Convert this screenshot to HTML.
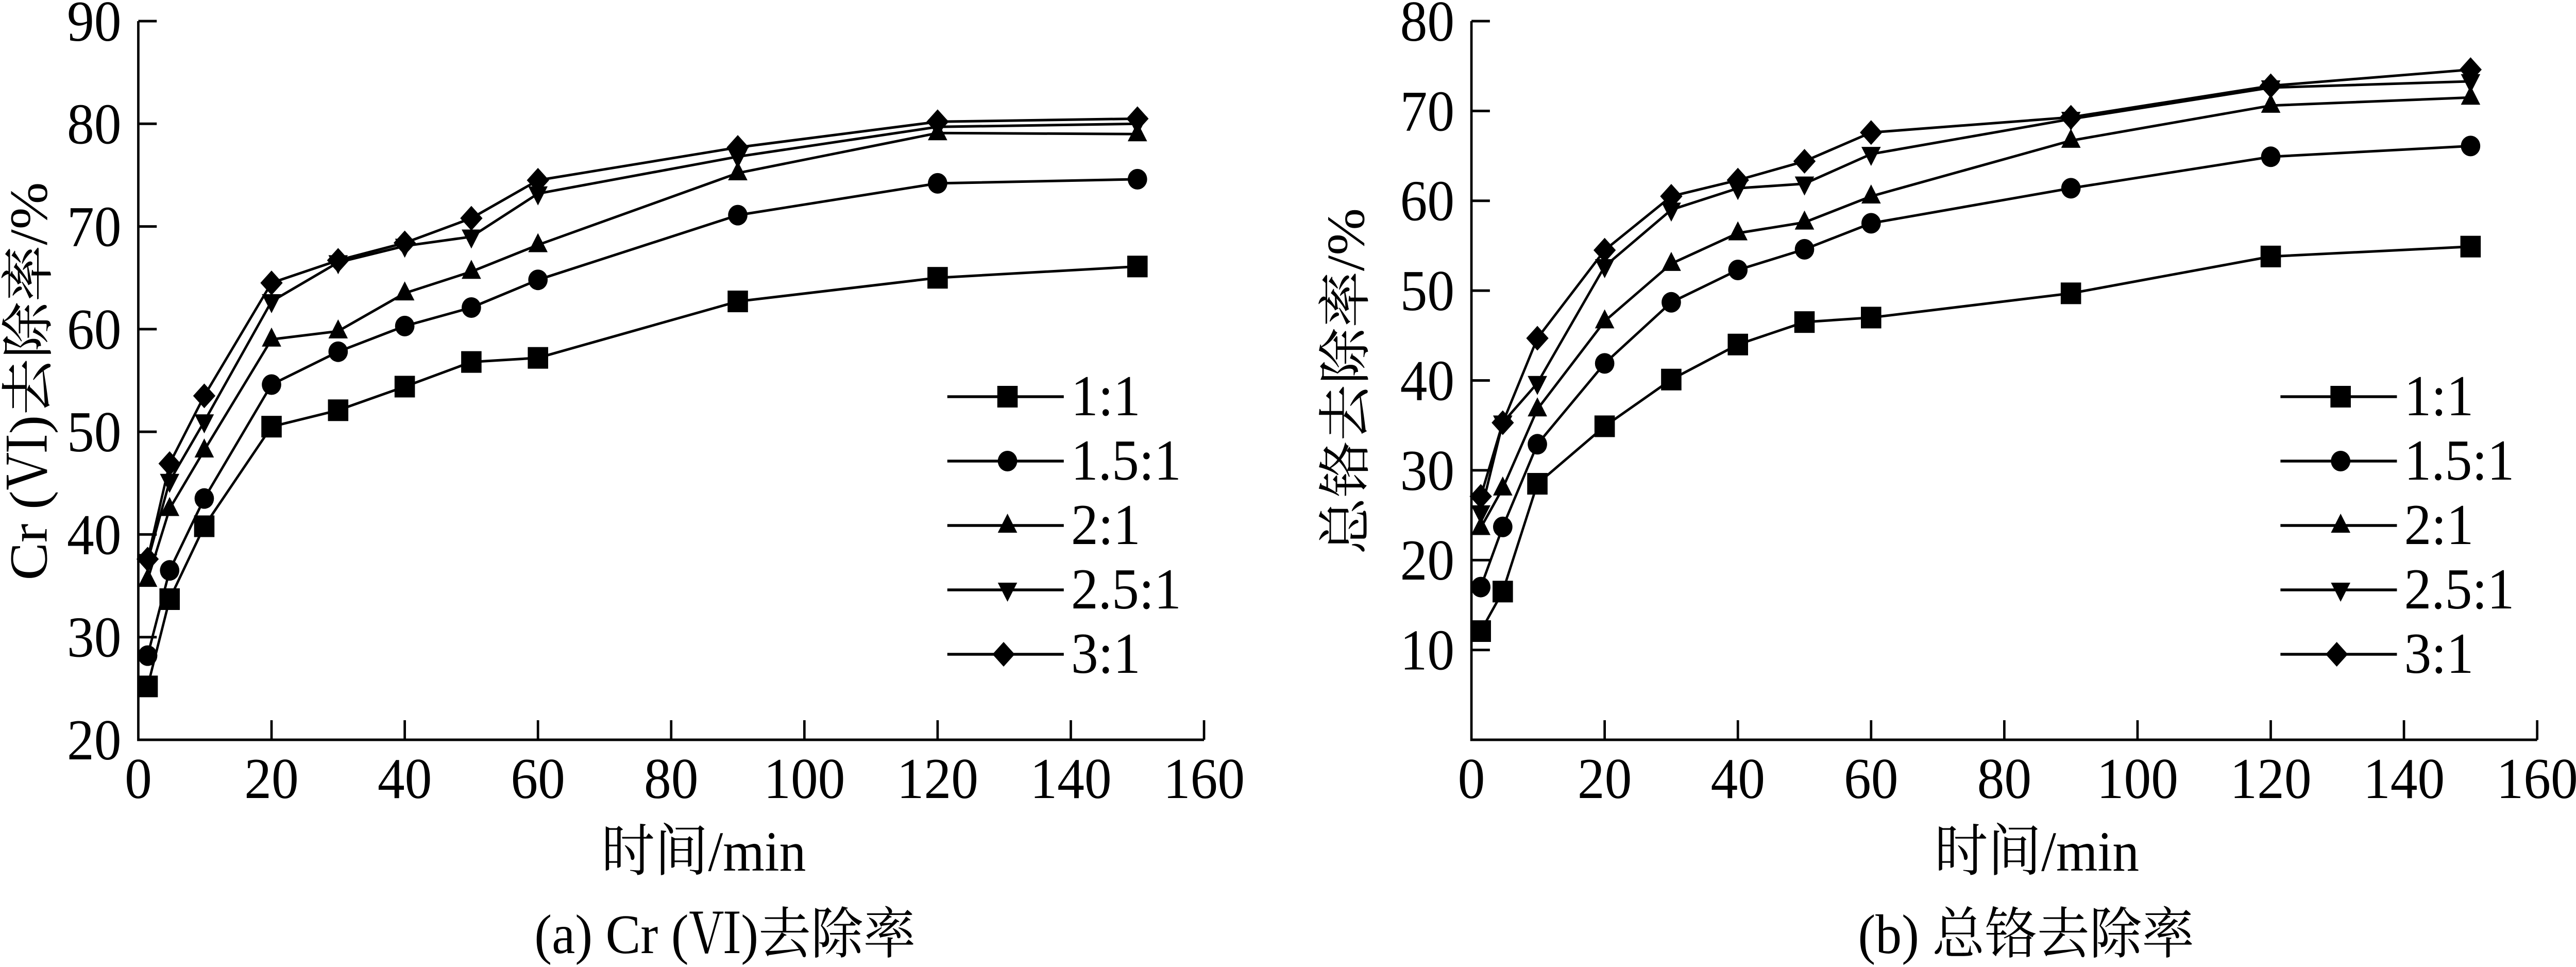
<!DOCTYPE html>
<html><head><meta charset="utf-8"><style>
html,body{margin:0;padding:0;background:#fff;overflow:hidden;width:100%;height:100%;}
svg{display:block;width:100vw;height:100vh;}
text{font-family:"Liberation Serif","Noto Serif CJK SC","Noto Sans CJK SC",serif;fill:#000;}
</style></head><body>
<svg id="fig" viewBox="0 0 5308 1877" preserveAspectRatio="none" xmlns="http://www.w3.org/2000/svg"></svg>
<script>
const times = [1.4, 4.7, 9.9, 20, 30, 40, 50, 60, 90, 120, 150];
const seriesNames = ["1:1", "1.5:1", "2:1", "2.5:1", "3:1"];
const markerTypes = ["square", "circle", "up", "down", "diamond"];
const crA_11  = [25.2, 33.7, 40.8, 50.5, 52.1, 54.4, 56.8, 57.2, 62.7, 65.0, 66.1];
const crA_151 = [28.2, 36.5, 43.5, 54.6, 57.8, 60.3, 62.1, 64.8, 71.1, 74.2, 74.6];
const crA_21  = [35.6, 42.5, 48.2, 59.0, 59.8, 63.5, 65.6, 68.2, 75.2, 79.1, 79.0];
const crA_251 = [37.4, 45.2, 51.0, 62.7, 66.5, 68.1, 69.0, 73.2, 76.8, 79.7, 80.0];
const crA_31  = [37.6, 46.9, 53.5, 64.5, 66.7, 68.4, 70.8, 74.5, 77.7, 80.2, 80.5];
const totB_11  = [12.1, 16.5, 28.5, 34.9, 40.1, 44.0, 46.5, 47.0, 49.7, 53.8, 54.9];
const totB_151 = [17.0, 23.7, 32.9, 41.9, 48.7, 52.3, 54.6, 57.5, 61.4, 64.9, 66.1];
const totB_21  = [23.6, 28.0, 36.8, 46.6, 53.0, 56.4, 57.6, 60.5, 66.7, 70.6, 71.5];
const totB_251 = [25.3, 35.3, 39.7, 52.7, 59.0, 61.4, 61.9, 65.2, 69.1, 72.6, 73.3];
const totB_31  = [27.1, 35.3, 44.7, 54.5, 60.5, 62.3, 64.4, 67.6, 69.3, 72.8, 74.6];
const xTicks = [0, 20, 40, 60, 80, 100, 120, 140, 160];
const yTicksA = [20, 30, 40, 50, 60, 70, 80, 90];
const yTicksB = [10, 20, 30, 40, 50, 60, 70, 80];

const NS = "http://www.w3.org/2000/svg";
const svg = document.getElementById("fig");
function mk(tag, attrs, parent) {
  const e = document.createElementNS(NS, tag);
  for (const k in attrs) e.setAttribute(k, attrs[k]);
  (parent || svg).appendChild(e);
  return e;
}
function marker(type, cx, cy, g) {
  let e;
  if (type === "square") e = mk("rect", {x: cx-21, y: cy-21, width: 42, height: 42, fill: "#000"}, g);
  else if (type === "circle") e = mk("circle", {cx: cx, cy: cy, r: 20, fill: "#000"}, g);
  else if (type === "up") e = mk("polygon", {points: `${cx},${cy-23} ${cx+20},${cy+14} ${cx-20},${cy+14}`, fill: "#000"}, g);
  else if (type === "down") e = mk("polygon", {points: `${cx},${cy+23} ${cx+20},${cy-14} ${cx-20},${cy-14}`, fill: "#000"}, g);
  else e = mk("polygon", {points: `${cx},${cy-24} ${cx+23},${cy} ${cx},${cy+24} ${cx-23},${cy}`, fill: "#000"}, g);
  
  
  return e;
}

function drawChart(opt) {
  const g = mk("g", {});
  
  
  const x0 = opt.left, x1 = opt.left + 2196, yTop = 41, yBot = 1436;
  const sx = v => x0 + (v - 0) / 160 * (x1 - x0);
  const sy = v => yBot - (v - opt.ymin) / (opt.ymax - opt.ymin) * (yBot - yTop);
  const ax = mk("path", {d: `M${x0},${yTop} L${x0},${yBot} L${x1},${yBot}`, fill: "none", stroke: "#000", "stroke-width": 5}, g);
  
  
  opt.yTicks.forEach(v => {
    const y = sy(v);
    const t = mk("line", {x1: x0, y1: y, x2: x0+38, y2: y, stroke: "#000", "stroke-width": 5}, g);
    
    
    const l = mk("text", {x: x0-35, y: y+38, "font-size": 112, "text-anchor": "end"}, g);
    l.textContent = v;
    
    
  });
  xTicks.forEach(v => {
    const x = sx(v);
    if (v > 0) {
      const t = mk("line", {x1: x, y1: yBot, x2: x, y2: yBot-38, stroke: "#000", "stroke-width": 5}, g);
      
      
    }
    const l = mk("text", {x: x, y: 1549, "font-size": 112, "text-anchor": "middle"}, g);
    l.textContent = v;
    
    
  });
  opt.series.forEach((vals, i) => {
    const sg = mk("g", {}, g);
    
    
    const pts = vals.map((v, j) => sx(times[j]) + "," + sy(v)).join(" ");
    const pl = mk("polyline", {points: pts, fill: "none", stroke: "#000", "stroke-width": 5, "stroke-linejoin": "round"}, sg);
    
    
    vals.forEach((v, j) => marker(markerTypes[i], sx(times[j]), sy(v), sg));
  });
  const lg = mk("g", {}, g);
  
  
  seriesNames.forEach((n, i) => {
    const y = 770 + i * 125;
    const lx = opt.left + 1667;
    const eg = mk("g", {}, lg);
    
    
    mk("line", {x1: lx, y1: y, x2: lx+240, y2: y, stroke: "#000", "stroke-width": 5.5}, eg);
    marker(markerTypes[i], lx + (i === 4 ? 116 : 124), y, eg);
    const t = mk("text", {x: lx+255, y: y+36, "font-size": 112}, eg);
    t.textContent = n;
    
    
  });
  const xt = mk("text", {x: opt.left + 1165, y: 1690, "font-size": 110, "text-anchor": "middle"}, g);
  xt.textContent = "时间/min";
  
  
  const yt = mk("text", {x: 0, y: 0, "font-size": 110, "text-anchor": "middle", transform: `translate(${opt.ytX},${opt.ytY}) rotate(-90)`}, g);
  yt.textContent = opt.yTitle;
  
  
  const cap = mk("text", {x: opt.capX, y: 1850, "font-size": 108, "text-anchor": "middle"}, g);
  cap.textContent = opt.caption;
  
  
}

drawChart({name: "chart-cr6-removal", left: 285, ymin: 20, ymax: 90, yTicks: yTicksA,
  series: [crA_11, crA_151, crA_21, crA_251, crA_31],
  yTitle: "Cr (Ⅵ)去除率/%", ytX: 96, ytY: 740, caption: "(a) Cr (Ⅵ)去除率", capX: 1494});
drawChart({name: "chart-total-cr-removal", left: 3032, ymin: 0, ymax: 80, yTicks: yTicksB,
  series: [totB_11, totB_151, totB_21, totB_251, totB_31],
  yTitle: "总铬去除率/%", ytX: 2810, ytY: 740, caption: "(b) 总铬去除率", capX: 4175});
</script>
</body></html>
